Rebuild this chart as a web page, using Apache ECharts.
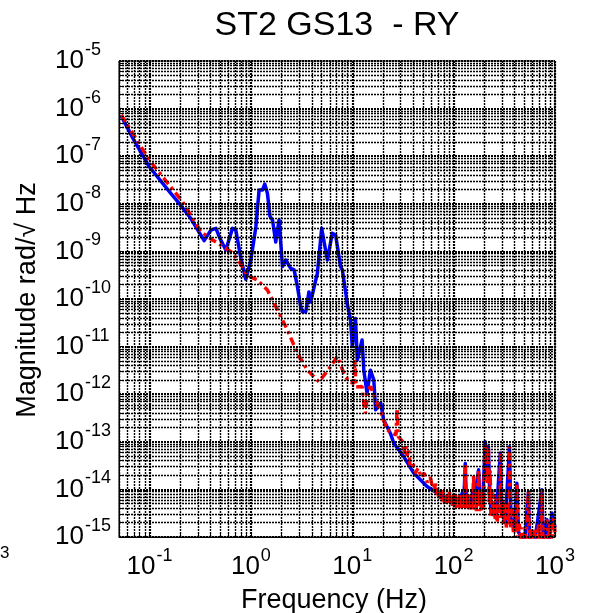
<!DOCTYPE html>
<html><head><meta charset="utf-8">
<script src="https://cdn.jsdelivr.net/npm/echarts@6/dist/echarts.min.js"></script>
<style>html,body{margin:0;padding:0;background:#fff;}#c{width:591px;height:613px;}</style>
</head><body><div id="c"></div>
<script>
// ---- text ----
const titleText = 'ST2 GS13  - RY';
const xTitle = 'Frequency (Hz)';
const yTitle = 'Magnitude rad/\u221A Hz';
const strayText = '3';

// ---- axes ----
const xMin = 0.05, xMax = 1000;
const yMin = 1e-15, yMax = 1e-5;
const xLabelValues = [0.1, 1, 10, 100, 1000];
const yLabelValues = [1e-15, 1e-14, 1e-13, 1e-12, 1e-11, 1e-10, 1e-9, 1e-8, 1e-7, 1e-6, 1e-5];

// ---- blue (solid) series ----
const blueFreq = [0.0525, 0.0684, 0.0995, 0.157, 0.196, 0.256, 0.346, 0.403, 0.452, 0.494, 0.566, 0.659, 0.71, 0.796, 0.891,
  1.0, 1.12, 1.205, 1.30, 1.37, 1.455, 1.545, 1.633, 1.758, 1.897, 2.05, 2.21, 2.47, 2.67, 2.88, 3.10, 3.22, 3.48, 3.74, 3.89,
  4.53, 4.99, 5.68, 6.35, 6.85, 7.67, 7.98, 8.93, 9.62, 10.0, 10.77, 11.2, 12.5, 13.0, 14.0, 15.1, 16.3, 17.0, 19.1, 20.4,
  23.8, 25.7, 32.2, 40.4, 54.7, 74.0, 87.1, 100, 112.2, 123.0, 125.9, 130.3, 133.4, 144.5, 154.9, 158.5, 176.2, 182.0, 195.0,
  205.1, 211.3, 216.3, 220.3, 226.5, 234.4, 251.2, 263.0, 288.4, 298.5, 323.6, 355.6, 367.3, 398.0, 420.7, 436.5, 501.0,
  547.0, 562.0, 631.0, 741.0, 767.0, 832.0, 871.0, 933.0, 1000];
const blueMag = [7.1e-7, 2.4e-7, 6.0e-8, 1.8e-8, 1.02e-8, 4.9e-9, 1.68e-9, 2.8e-9, 3.05e-9, 1.9e-9, 1.07e-9, 3.05e-9, 2.8e-9, 7.2e-10, 2.6e-10,
  6.6e-10, 3.3e-9, 1.95e-8, 1.95e-8, 2.6e-8, 1.66e-8, 5.4e-9, 4.6e-9, 1.58e-9, 4.6e-9, 4.8e-10, 6.6e-10, 4.4e-10, 4.1e-10, 1.8e-10, 6.9e-11, 5.4e-11, 5.4e-11, 1.41e-10, 8.7e-11,
  3.5e-10, 3.05e-9, 6.6e-10, 2.4e-9, 2.2e-9, 4.8e-10, 4.1e-10, 8.1e-11, 3.6e-11, 1.0e-11, 3.9e-11, 5.2e-12, 1.38e-11, 3.2e-12, 1.05e-12, 3.2e-12, 2.0e-12, 4.7e-13, 6.5e-13, 2.9e-13,
  1.5e-13, 9.3e-14, 4.9e-14, 2.2e-14, 1.15e-14, 7.6e-15, 6.8e-15, 6.5e-15, 5.6e-15, 8.9e-15, 5.2e-15, 3.5e-14, 5.6e-15, 5.0e-15, 8.9e-15, 5.0e-15, 2.6e-14, 5.0e-15, 7.9e-15,
  1.0e-13, 6.3e-14, 2.0e-14, 7.9e-14, 1.0e-14, 3.2e-15, 5.0e-15, 2.5e-15, 5.8e-14, 3.2e-15, 2.0e-15, 7.9e-14, 2.5e-15, 1.6e-15, 1.35e-14, 1.26e-15, 7.9e-16,
  8.9e-15, 7.9e-16, 7.9e-16, 9.8e-15, 7.9e-16, 2.3e-15, 7.9e-16, 3.2e-15, 1.6e-15];

// ---- red (dash-dot) series ----
const redFreq = [0.0525, 0.0995, 0.212, 0.321, 0.374, 0.419, 0.566, 0.635, 0.766, 0.927, 1.16, 1.455, 1.83, 2.29, 2.88, 3.61,
  4.70, 6.12, 7.13, 8.26, 9.27, 10.4, 10.6, 10.9, 12.5, 13.0, 13.5, 14.2, 15.1, 16.3, 17.6, 19.7, 22.1, 24.8, 27.0, 27.7, 28.4,
  31.6, 32.4, 33.5, 34.7, 35.9, 37.2, 39.8, 41.7, 44.7, 47.9, 51.3, 55.0, 58.9, 61.7, 63.1, 64.6, 66.1, 67.6, 69.2, 70.8,
  72.4, 74.1, 75.9, 77.6, 79.4, 81.3, 83.2, 85.1, 87.1, 89.1, 91.2, 93.3, 95.5, 97.7, 100, 102.3, 104.7, 107.2, 109.6, 112.2,
  114.8, 117.5, 120.2, 123.0, 125.9, 128.2, 130.3, 132.4, 134.9, 138.0, 141.3, 144.5, 147.9, 151.4, 154.9, 157.4, 160.3,
  164.1, 167.9, 171.8, 176.2, 179.9, 184.1, 188.4, 192.8, 197.2, 199.5,
  203.2, 206.5, 209.9, 213.8, 217.3, 220.3, 223.9,
  229.1, 233.3, 239.9, 245.5, 251.2, 257.0, 263.0, 269.2, 278.6, 285.1, 290.4, 296.5, 305.5, 312.6, 323.6, 331.1, 342.8, 350.8,
  357.3, 364.8, 375.8, 389.0, 402.7, 412.1, 420.7, 429.5, 446.7, 462.4, 478.6, 501.2, 524.8, 547.0, 559.8, 582.1, 602.6, 631.0,
  660.7, 691.8, 716.1, 741.3, 758.6, 794.3, 831.8, 851.1, 891.3, 933.3, 966.1, 1000];
const redMag = [7.4e-7, 8.3e-8, 1.1e-8, 2.6e-9, 2.04e-9, 1.74e-9, 1.16e-9, 9.9e-10, 6.1e-10, 3.1e-10, 2.5e-10, 1.55e-10, 5.9e-11, 2.24e-11, 7.2e-12, 3.2e-12,
  1.82e-12, 3.8e-12, 6.2e-12, 2.75e-12, 1.82e-12, 1.7e-12, 5.6e-12, 1.41e-12, 1.45e-12, 6.5e-13, 4.0e-13, 1.2e-12, 1.45e-12, 1.0e-12, 6.5e-13, 3.5e-13, 1.78e-13, 1.51e-13, 1.4e-13, 5.0e-13, 1.29e-13,
  1.0e-13, 5.6e-14, 8.9e-14, 5.0e-14, 7.1e-14, 3.2e-14, 3.5e-14, 2.2e-14, 2.8e-14, 1.78e-14, 2.2e-14, 1.41e-14, 1.78e-14, 1.12e-14, 1.26e-14, 8.9e-15, 1.41e-14, 7.9e-15, 1.12e-14, 7.1e-15,
  1.05e-14, 6.3e-15, 1.0e-14, 5.6e-15, 8.9e-15, 5.0e-15, 8.3e-15, 5.0e-15, 7.9e-15, 4.8e-15, 8.9e-15, 4.5e-15, 7.9e-15, 4.5e-15, 7.6e-15, 4.2e-15, 7.9e-15, 4.0e-15, 7.1e-15, 4.2e-15,
  7.6e-15, 4.0e-15, 7.1e-15, 4.0e-15, 7.9e-15, 4.5e-15, 3.2e-14, 4.0e-15, 7.9e-15, 3.8e-15, 7.6e-15, 3.8e-15, 7.9e-15, 3.8e-15, 7.1e-15, 2.0e-14, 3.8e-15,
  7.9e-15, 3.5e-15, 7.1e-15, 2.6e-14, 3.5e-15, 7.9e-15, 3.5e-15, 1.0e-14, 4.0e-15, 1.26e-14,
  8.9e-14, 9.5e-14, 5.0e-14, 7.1e-14, 1.26e-14, 7.9e-14, 5.0e-15,
  2.5e-14, 2.8e-15, 1.0e-14, 2.5e-15, 7.9e-15, 2.2e-15, 6.3e-15, 2.0e-15, 7.9e-15, 2.5e-15, 5.6e-14, 2.5e-15, 6.3e-15, 1.78e-15, 5.0e-15, 1.58e-15, 5.0e-15, 1.78e-15,
  7.9e-14, 1.58e-15, 4.0e-15, 1.26e-15, 3.2e-15, 1.26e-15, 1.35e-14, 1.0e-15, 2.0e-15, 6.3e-16, 1.58e-15, 6.3e-16, 1.58e-15, 8.9e-15, 6.3e-16, 1.58e-15, 6.3e-16, 1.41e-15,
  6.3e-16, 2.0e-15, 6.3e-16, 9.8e-15, 6.3e-16, 1.58e-15, 2.3e-15, 6.3e-16, 2.0e-15, 6.3e-16, 2.5e-15, 1.26e-15];

const FONT = '"Liberation Sans", Arial, sans-serif';

// grid line positions: 1..9 x each decade inside the axis range
function logGridValues(lo, hi) {
  const out = [];
  for (let d = Math.floor(Math.log10(lo)) - 1; d <= Math.ceil(Math.log10(hi)); d++) {
    for (let k = 1; k <= 9; k++) {
      const v = k * Math.pow(10, d);
      if (v >= lo * 0.9999 && v <= hi * 1.0001) out.push({ v: +v.toPrecision(6), major: k === 1 });
    }
  }
  return out;
}
const xGrid = logGridValues(xMin, xMax);
const yGrid = logGridValues(yMin, yMax);

function powLabel(value) {
  const e = Math.round(Math.log10(value));
  return '{b|10}{s|' + e + '}';
}
const labelRich = {
  b: { fontFamily: FONT, fontSize: 26, lineHeight: 40, color: '#000' },
  s: { fontFamily: FONT, fontSize: 18, lineHeight: 18, verticalAlign: 'top', color: '#000', padding: [0, 0, 0, 1] }
};

const minorLine = { color: '#000', type: [2, 1], width: 1.4 };
const majorLine = { color: '#000', type: [2, 1], width: 2.2 };
function gridItem(dim, g) {
  const item = { lineStyle: g.major ? majorLine : minorLine };
  item[dim] = g.v;
  return item;
}

const chart = echarts.init(document.getElementById('c'), null, { renderer: 'canvas' });
chart.setOption({
  animation: false,
  backgroundColor: '#fff',
  grid: { left: 119, right: 36, top: 61, bottom: 76, containLabel: false, outerBoundsMode: 'none',
          show: true, borderColor: '#000', borderWidth: 1, backgroundColor: 'transparent' },
  xAxis: {
    type: 'log', logBase: 10, min: xMin, max: xMax,
    axisLine: { show: true, lineStyle: { color: '#000', width: 1 } },
    axisTick: { show: true, inside: true, length: 4, customValues: xGrid.map(g => g.v), lineStyle: { color: '#000' } },
    splitLine: { show: false }, minorTick: { show: false }, minorSplitLine: { show: false },
    axisLabel: { customValues: xLabelValues, formatter: powLabel, margin: 10, color: '#000', rich: labelRich, hideOverlap: false }
  },
  yAxis: {
    type: 'log', logBase: 10, min: yMin, max: yMax,
    axisLine: { show: true, lineStyle: { color: '#000', width: 1 } },
    axisTick: { show: true, inside: true, length: 4, customValues: yGrid.map(g => g.v), lineStyle: { color: '#000' } },
    splitLine: { show: false }, minorTick: { show: false }, minorSplitLine: { show: false },
    axisLabel: { customValues: yLabelValues, formatter: powLabel, margin: 64, align: 'left', color: '#000', rich: labelRich, hideOverlap: false }
  },
  series: [
    {
      type: 'line', z: 1, silent: true, symbol: 'none', data: [[1, 1e-10]], lineStyle: { width: 0 },
      markLine: {
        silent: true, symbol: ['none', 'none'], label: { show: false }, animation: false, precision: 20,
        lineStyle: minorLine, emphasis: { disabled: true },
        data: xGrid.map(g => gridItem('xAxis', g)).concat(yGrid.map(g => gridItem('yAxis', g)))
      }
    },
    {
      name: 'blue', type: 'line', z: 3, symbol: 'none', showSymbol: false,
      data: blueFreq.map((f, i) => [f, blueMag[i]]),
      lineStyle: { color: '#0000ff', width: 3.5, join: 'round' }
    },
    {
      name: 'red', type: 'line', z: 4, symbol: 'none', showSymbol: false,
      data: redFreq.map((f, i) => [f, redMag[i]]),
      lineStyle: { color: '#ff0000', width: 3.5, type: [8, 4, 3, 4], cap: 'butt' }
    }
  ],
  graphic: [
    { type: 'text', x: 337, y: 26, style: { text: titleText, fontFamily: FONT, fontSize: 34, fill: '#000', align: 'center', verticalAlign: 'middle' } },
    { type: 'text', x: 334, y: 601, style: { text: xTitle, fontFamily: FONT, fontSize: 27, fill: '#000', align: 'center', verticalAlign: 'middle' } },
    { type: 'text', x: 28, y: 300, rotation: Math.PI / 2, style: { text: yTitle, fontFamily: FONT, fontSize: 27, fill: '#000', align: 'center', verticalAlign: 'middle' } },
    { type: 'text', x: 0, y: 545, style: { text: strayText, fontFamily: FONT, fontSize: 17, fill: '#000', align: 'left', verticalAlign: 'top' } }
  ]
});
</script></body></html>
